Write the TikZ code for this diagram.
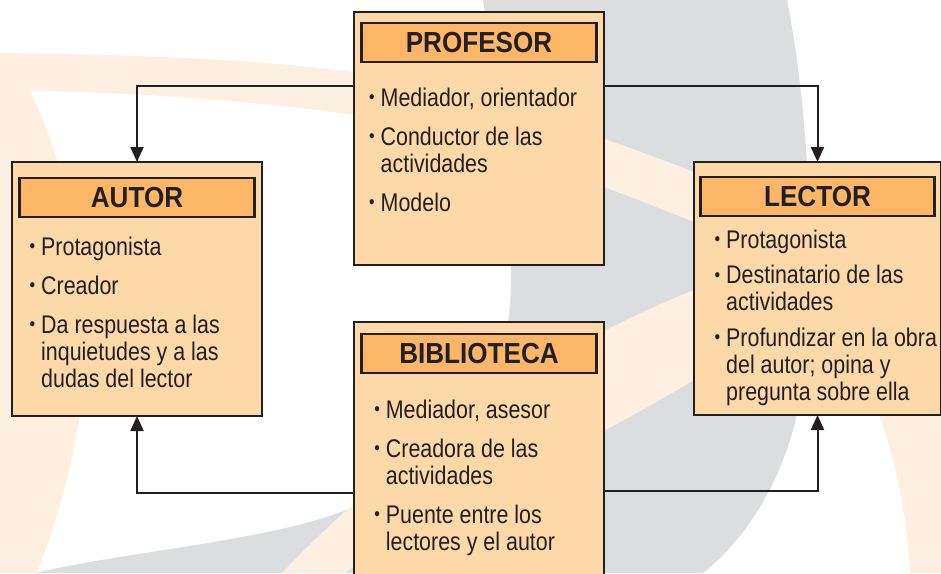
\documentclass[tikz,border=0pt]{standalone}
\usepackage{fontspec}
\setmainfont{Liberation Sans}[FakeStretch=0.84]
\newfontfamily\titulofont{Liberation Sans}[FakeStretch=0.9]
\usetikzlibrary{arrows.meta,positioning}

\definecolor{grisfondo}{HTML}{DCDDDF}
\definecolor{cremafondo}{HTML}{FEF0E1}
\definecolor{cajafondo}{HTML}{FDD9AA}
\definecolor{titulofondo}{HTML}{FBB767}
\definecolor{linea}{HTML}{231F20}

\newlength{\bulw}
\setlength{\bulw}{11.5pt}
\newcommand{\itm}{\makebox[\bulw][l]{\raisebox{2.5pt}{\fontsize{19}{19}\selectfont\textbullet}}}
\newcommand{\sig}{\hspace*{\bulw}}

\tikzset{
    caja/.style={draw=linea, line width=2.6pt, fill=cajafondo, anchor=north west,
        inner sep=0pt, outer sep=0pt},
    titulo/.style={draw=linea, line width=2.2pt, fill=titulofondo, minimum width=235pt,
        minimum height=39pt, inner sep=0pt, outer sep=0pt, text=linea,
        font=\titulofont\fontsize{29}{29}\selectfont\bfseries},
    texto/.style={anchor=north west, inner sep=0pt, align=left, text=linea,
        font=\fontsize{25.5}{27}\selectfont},
    flecha/.style={draw=linea, line width=2pt, -{Triangle[width=13pt,length=15pt]}}
}

\begin{document}
\begin{tikzpicture}[x=1pt,y=-1pt]

            \def \bw{250};
            \def \bh{254};

            \useasboundingbox (0,0) rectangle (941,573);
            \clip (0,0) rectangle (941,573);

            % fondo
            \fill[grisfondo] (483,0) -- (787,0) .. controls (805,90) and (820,250) .. (800,400)
                .. controls (785,480) and (745,540) .. (703,573) -- (36,573)
                .. controls (120,552) and (280,540) .. (353,507)
                .. controls (430,470) and (495,400) .. (508,322)
                .. controls (520,240) and (495,80) .. (483,0) -- cycle;
            \fill[cremafondo] (0,53) .. controls (200,55) and (300,65) .. (354,72)
                .. controls (450,88) and (560,120) .. (694,172) -- (760,205) -- (760,255)
                -- (694,222) .. controls (560,168) and (450,130) .. (354,115)
                .. controls (250,100) and (120,92) .. (30,91)
                .. controls (70,170) and (95,300) .. (80,416)
                .. controls (70,480) and (50,540) .. (37,573) -- (0,573) -- cycle;
            \fill[cremafondo] (282,573) .. controls (380,470) and (520,360) .. (694,290)
                -- (760,262) -- (760,350) -- (694,380)
                .. controls (560,460) and (420,520) .. (345,573) -- cycle;
            \fill[cremafondo] (840,330) .. controls (880,400) and (905,480) .. (910,573)
                -- (941,573) -- (941,330) -- cycle;

            % cajas
            \node at (354,12) [caja, minimum width=\bw pt, minimum height=253pt] (prof) {};
            \node at (12,162) [caja, minimum width=\bw pt, minimum height=\bh pt] (autor) {};
            \node at (694,162) [caja, minimum width=247pt, minimum height=253pt] (lector) {};
            \node at (354,322) [caja, minimum width=\bw pt, minimum height=270pt] (biblio) {};

            % titulos
            \node [titulo, below=11pt of prof.north] (profT) {PROFESOR};
            \node [titulo, below=16pt of autor.north] (autorT) {AUTOR};
            \node [titulo, minimum width=234pt, below=15pt of lector.north] (lectorT) {LECTOR};
            \node [titulo, below=12pt of biblio.north] (biblioT) {BIBLIOTECA};

            % textos
            \node at (369,87.5) [texto] (profL) {\itm Mediador, orientador\\[12pt]
                \itm Conductor de las\\ \sig actividades\\[12pt]
                \itm Modelo};
            \node at (29.5,236.5) [texto] (autorL) {\itm Protagonista\\[12pt]
                \itm Creador\\[12pt]
                \itm Da respuesta a las\\ \sig inquietudes y a las\\ \sig dudas del lector};
            \node at (714.5,229.5) [texto] (lectorL) {\itm Protagonista\\[8.5pt]
                \itm Destinatario de las\\ \sig actividades\\[8.5pt]
                \itm Profundizar en la obra\\ \sig del autor; opina y\\ \sig pregunta sobre ella};
            \node at (374.2,399.5) [texto] (biblioL) {\itm Mediador, asesor\\[12pt]
                \itm Creadora de las\\ \sig actividades\\[12pt]
                \itm Puente entre los\\ \sig lectores y el autor};

            % flechas
            \draw[flecha] ([yshift=-74pt]prof.north west) -| (autor.north);
            \draw[flecha] ([yshift=-74pt]prof.north east) -| (lector.north);
            \draw[flecha] ([yshift=-171pt]biblio.north west) -| (autor.south);
            \draw[flecha] ([yshift=-169pt]biblio.north east) -| (lector.south);

\end{tikzpicture}
\end{document}
